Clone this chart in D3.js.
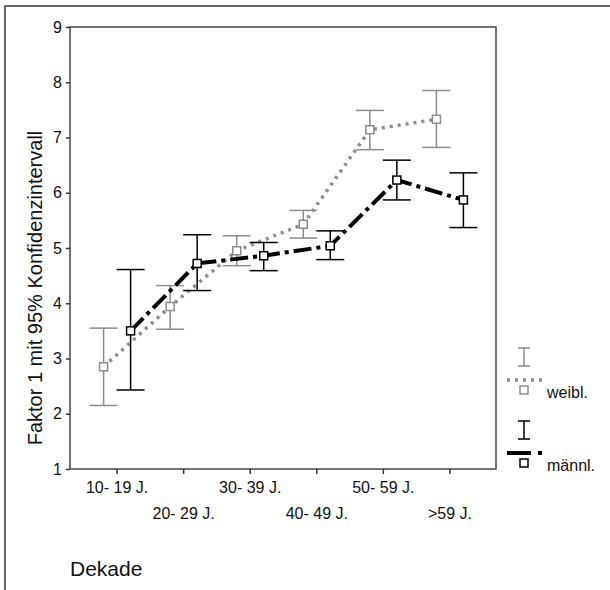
<!DOCTYPE html>
<html>
<head>
<meta charset="utf-8">
<script src="https://cdn.jsdelivr.net/npm/d3@7"></script>
<style>
  body { margin: 0; background: #fff; }
  svg text { font-family: "Liberation Sans", Arial, sans-serif; fill: #111; }
</style>
</head>
<body>
<div id="chart"></div>
<script>
// Faktor 1 nach Dekade und Geschlecht (Mittelwert mit 95% KI)
const dekaden = ['10- 19 J.', '20- 29 J.', '30- 39 J.', '40- 49 J.', '50- 59 J.', '>59 J.'];
const yTicks = [1, 2, 3, 4, 5, 6, 7, 8, 9];

const weiblMean  = [2.85, 3.94, 4.95, 5.43, 7.14, 7.33];
const weiblLower = [2.15, 3.53, 4.68, 5.18, 6.78, 6.82];
const weiblUpper = [3.55, 4.32, 5.22, 5.68, 7.49, 7.85];

const maennlMean  = [3.50, 4.72, 4.86, 5.04, 6.23, 5.87];
const maennlLower = [2.43, 4.23, 4.59, 4.79, 5.87, 5.37];
const maennlUpper = [4.61, 5.24, 5.10, 5.31, 6.59, 6.36];

const W = 610, H = 590;
const plot = { left: 70, right: 496, top: 27, bottom: 469 };

const svg = d3.select('#chart').append('svg')
    .attr('width', W)
    .attr('height', H);

// outer frame (top + left visible)
svg.append('rect')
    .attr('x', 5).attr('y', 6)
    .attr('width', 620).attr('height', 600)
    .attr('fill', 'none')
    .attr('stroke', '#333')
    .attr('stroke-width', 1.5);

const x = d3.scalePoint()
    .domain(dekaden)
    .range([plot.left, plot.right])
    .padding(0.7);

const y = d3.scaleLinear()
    .domain([1, 9])
    .range([plot.bottom, plot.top]);

// plot box
svg.append('rect')
    .attr('x', plot.left).attr('y', plot.top)
    .attr('width', plot.right - plot.left)
    .attr('height', plot.bottom - plot.top)
    .attr('fill', 'none')
    .attr('stroke', '#444')
    .attr('stroke-width', 1.5);

// y axis
const yAxis = svg.append('g')
    .attr('transform', `translate(${plot.left},0)`)
    .call(d3.axisLeft(y).tickValues(yTicks).tickSize(4).tickPadding(4).tickFormat(d3.format('d')));
yAxis.select('.domain').remove();
yAxis.selectAll('line').attr('stroke', '#333').attr('stroke-width', 1.5);
yAxis.selectAll('text').style('font-size', '16px').attr('fill', '#111')
    .style('font-family', '"Liberation Sans", Arial, sans-serif');

// x axis, labels staggered in two rows
const xAxis = svg.append('g')
    .attr('transform', `translate(0,${plot.bottom})`)
    .call(d3.axisBottom(x).tickSize(5).tickPadding(8));
xAxis.select('.domain').remove();
xAxis.selectAll('line').attr('stroke', '#333').attr('stroke-width', 1.5);
xAxis.selectAll('text')
    .style('font-size', '16px').attr('fill', '#111')
    .style('font-family', '"Liberation Sans", Arial, sans-serif')
    .attr('dy', (d, i) => i % 2 === 0 ? '0.71em' : '2.3em');

// axis titles
svg.append('text')
    .attr('transform', 'translate(42,288) rotate(-90)')
    .attr('text-anchor', 'middle')
    .style('font-size', '20px')
    .text('Faktor 1 mit 95% Konfidenzintervall');

svg.append('text')
    .attr('x', 70).attr('y', 576)
    .style('font-size', '21px')
    .text('Dekade');

const series = [
    { name: 'weibl.', mean: weiblMean, lo: weiblLower, hi: weiblUpper, off: -13,
      color: '#8c8c8c', dash: '3,5', width: 3.5 },
    { name: 'männl.', mean: maennlMean, lo: maennlLower, hi: maennlUpper, off: 14,
      color: '#000', dash: '18,5,4,5', width: 4 }
];

series.forEach(s => {
    const g = svg.append('g');
    const px = i => x(dekaden[i]) + s.off;

    // error bars
    dekaden.forEach((d, i) => {
        const cx = px(i);
        g.append('line')
            .attr('x1', cx).attr('x2', cx)
            .attr('y1', y(s.lo[i])).attr('y2', y(s.hi[i]))
            .attr('stroke', s.color).attr('stroke-width', 1.5);
        [s.lo[i], s.hi[i]].forEach(v => {
            g.append('line')
                .attr('x1', cx - 14).attr('x2', cx + 14)
                .attr('y1', y(v)).attr('y2', y(v))
                .attr('stroke', s.color).attr('stroke-width', 1.5);
        });
    });

    // connecting line
    const line = d3.line()
        .x((v, i) => px(i))
        .y(v => y(v));
    g.append('path')
        .datum(s.mean)
        .attr('d', line)
        .attr('fill', 'none')
        .attr('stroke', s.color)
        .attr('stroke-width', s.width)
        .attr('stroke-dasharray', s.dash);

    // markers
    g.selectAll('rect.m')
        .data(s.mean)
        .join('rect')
        .attr('class', 'm')
        .attr('x', (v, i) => px(i) - 4)
        .attr('y', v => y(v) - 4)
        .attr('width', 8).attr('height', 8)
        .attr('fill', '#fff')
        .attr('stroke', s.color)
        .attr('stroke-width', 1.5);
});

// legend
const legend = svg.append('g');
series.forEach((s, k) => {
    const top = 348 + k * 73;
    const cx = 524;
    legend.append('line')
        .attr('x1', cx).attr('x2', cx).attr('y1', top).attr('y2', top + 18)
        .attr('stroke', s.color).attr('stroke-width', 1.5);
    [top, top + 18].forEach(yy => {
        legend.append('line')
            .attr('x1', cx - 6).attr('x2', cx + 6).attr('y1', yy).attr('y2', yy)
            .attr('stroke', s.color).attr('stroke-width', 1.5);
    });
    legend.append('line')
        .attr('x1', 507).attr('x2', 543)
        .attr('y1', top + 32).attr('y2', top + 32)
        .attr('stroke', s.color)
        .attr('stroke-width', s.width)
        .attr('stroke-dasharray', k === 0 ? '3,5' : '24,7,4,5');
    legend.append('rect')
        .attr('x', cx - 4).attr('y', top + 38)
        .attr('width', 8).attr('height', 8)
        .attr('fill', '#fff')
        .attr('stroke', s.color).attr('stroke-width', 1.5);
    legend.append('text')
        .attr('x', 547).attr('y', top + 50)
        .style('font-size', '16px')
        .text(s.name);
});
</script>
</body>
</html>
